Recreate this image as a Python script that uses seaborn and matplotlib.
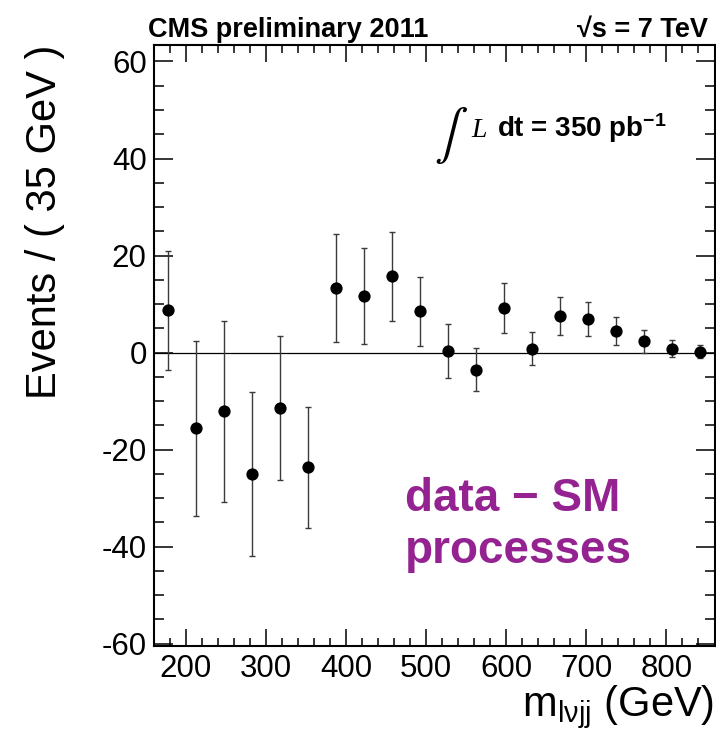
import matplotlib
matplotlib.use("Agg")
import matplotlib.pyplot as plt
import seaborn as sns
import pandas as pd
import numpy as np

# ---- data ----
mass = [177.5, 212.5, 247.5, 282.5, 317.5, 352.5, 387.5, 422.5, 457.5, 492.5,
        527.5, 562.5, 597.5, 632.5, 667.5, 702.5, 737.5, 772.5, 807.5, 842.5]
events = [8.7, -15.6, -12.1, -25.1, -11.4, -23.7, 13.3, 11.6, 15.7, 8.5,
          0.3, -3.5, 9.2, 0.8, 7.5, 7.0, 4.4, 2.3, 0.8, 0.2]
errors = [12.2, 18.0, 18.7, 16.9, 14.8, 12.5, 11.1, 9.9, 9.1, 7.1,
          5.5, 4.4, 5.1, 3.4, 3.9, 3.5, 2.9, 2.3, 1.7, 1.4]
x_major = [200, 300, 400, 500, 600, 700, 800]
y_major = [-60, -40, -20, 0, 20, 40, 60]

df = pd.DataFrame({"mass": mass, "events": events, "err": errors})

sns.set_theme(style="ticks")
plt.rcParams["font.family"] = ["Liberation Sans", "DejaVu Sans"]
plt.rcParams["mathtext.fontset"] = "custom"
plt.rcParams["mathtext.rm"] = "Liberation Sans"
plt.rcParams["mathtext.it"] = "Liberation Sans:italic"
plt.rcParams["mathtext.bf"] = "Liberation Sans:bold"
plt.rcParams["text.color"] = "black"
plt.rcParams["axes.labelcolor"] = "black"
plt.rcParams["xtick.color"] = "black"
plt.rcParams["ytick.color"] = "black"
plt.rcParams["xtick.labelcolor"] = "black"
plt.rcParams["ytick.labelcolor"] = "black"

W, H = 716, 732
fig = plt.figure(figsize=(W / 100, H / 100), dpi=100)
L, R, T, B = 153.6, 714.5, 45.0, 645.5
ax = fig.add_axes([L / W, 1 - B / H, (R - L) / W, (B - T) / H])

ax.axhline(0, color="black", lw=0.9, zorder=1)
ax.errorbar(df["mass"], df["events"], yerr=df["err"], fmt="none",
            ecolor="#3a3a3a", elinewidth=1.0, capsize=2.2, capthick=1.0, zorder=2)
sns.scatterplot(data=df, x="mass", y="events", ax=ax, color="black",
                s=78, edgecolor="black", linewidth=0, zorder=3, legend=False)

ax.set_xlim(160, 860)
ax.set_ylim(-60.4, 63.4)
ax.set_xticks(x_major)
ax.set_xticks(np.arange(160, 861, 20), minor=True)
ax.set_yticks(y_major)
ax.set_yticks(np.arange(-60, 61, 5), minor=True)
ax.set_xticklabels([str(v) for v in x_major])
ax.set_yticklabels([str(v) for v in y_major])

for s in ax.spines.values():
    s.set_linewidth(1.5)
    s.set_visible(True)
    s.set_color("black")
ax.tick_params(axis="both", which="both", direction="in", top=True, right=True,
               color="black", labelcolor="black", width=1.1)
ax.tick_params(axis="x", which="major", length=12, labelsize=22.5, pad=6)
ax.tick_params(axis="x", which="minor", length=6)
ax.tick_params(axis="y", which="major", length=13.5, labelsize=22.5, pad=5)
ax.tick_params(axis="y", which="minor", length=7)

ax.set_ylabel("Events / ( 35 GeV )", fontsize=30, loc="top", labelpad=26,
              color="black")
ax.set_xlabel(r"m$_{\mathregular{l\nu jj}}$ (GeV)", fontsize=30, loc="right",
              labelpad=0, color="black")

def fx(px):
    return px / W

def fy(py):
    return 1 - py / H

fig.text(fx(148), fy(37), "CMS preliminary 2011", fontsize=19.5,
         fontweight="bold", ha="left", va="baseline", color="black")
fig.text(fx(708), fy(37), "\u221as = 7 TeV", fontsize=19.5,
         fontweight="bold", ha="right", va="baseline", color="black")

fig.text(fx(434), fy(148), r"$\int$", fontsize=36, ha="left", va="baseline",
         math_fontfamily="stix", color="black")
fig.text(fx(471), fy(137), "L", fontsize=20, fontstyle="italic",
         family="Liberation Serif", ha="left", va="baseline", color="black")
fig.text(fx(497), fy(137), r"dt = 350 pb$^{\mathbf{-1}}$", fontsize=20,
         fontweight="bold", ha="left", va="baseline", color="black")

fig.text(fx(405), fy(511), "data \u2212 SM", fontsize=33, fontweight="bold",
         color="#952291", ha="left", va="baseline")
fig.text(fx(405), fy(563), "processes", fontsize=33, fontweight="bold",
         color="#952291", ha="left", va="baseline")

fig.savefig("out.png", dpi=100, facecolor="white")
